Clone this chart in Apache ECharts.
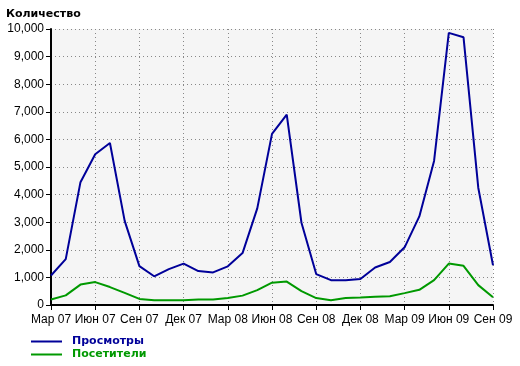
<!DOCTYPE html>
<html>
<head>
<meta charset="utf-8">
<script src="https://cdn.jsdelivr.net/npm/echarts@6/dist/echarts.min.js"></script>
<style>html,body{margin:0;padding:0;background:#fff}#c{width:520px;height:366px}</style>
</head>
<body>
<div id="c"></div>
<script>
var categories = ['Мар 07','Апр 07','Май 07','Июн 07','Июл 07','Авг 07','Сен 07','Окт 07','Ноя 07','Дек 07','Янв 08','Фев 08',
  'Мар 08','Апр 08','Май 08','Июн 08','Июл 08','Авг 08','Сен 08','Окт 08','Ноя 08','Дек 08','Янв 09','Фев 09',
  'Мар 09','Апр 09','Май 09','Июн 09','Июл 09','Авг 09','Сен 09'];
var views = [1070,1660,4450,5460,5870,3050,1410,1040,1300,1500,1230,1180,
  1400,1880,3500,6200,6900,2980,1120,900,900,940,1360,1560,
  2090,3210,5220,9860,9700,4250,1440];
var visitors = [200,350,740,830,650,440,220,175,175,175,200,200,
  250,340,540,810,850,500,250,175,250,270,300,320,
  430,550,900,1500,1420,720,280];
var yTicks = {min: 0, max: 10000, interval: 1000};

var chart = echarts.init(document.getElementById('c'), null, {renderer: 'canvas'});
var dotted = {color: '#888', width: 1, type: [1, 3]};
chart.setOption({
  animation: false,
  title: {
    text: 'Количество', left: 1, top: 4,
    textStyle: {fontFamily: 'DejaVu Sans', fontWeight: 'bold', fontSize: 11, color: '#000'}
  },
  legend: {
    orient: 'vertical', left: 31, top: 335, padding: 0,
    itemWidth: 31, itemHeight: 2, itemGap: 0,
    icon: 'rect',
    textStyle: {fontFamily: 'DejaVu Sans', fontWeight: 'bold', fontSize: 11, lineHeight: 13, padding: [0,0,0,5]},
    data: [
      {name: 'Просмотры', textStyle: {color: '#000099'}},
      {name: 'Посетители', textStyle: {color: '#009900'}}
    ]
  },
  grid: {left: 51, right: 27, top: 29, bottom: 61, show: true, backgroundColor: '#f5f5f5', borderWidth: 0},
  xAxis: {
    type: 'category', data: categories, boundaryGap: false,
    axisLine: {lineStyle: {color: '#000', width: 2}},
    axisTick: {interval: 2, length: 5, lineStyle: {color: '#000', width: 1}},
    axisLabel: {interval: 2, margin: 9, color: '#000', fontFamily: 'Liberation Sans', fontSize: 12},
    splitLine: {show: true, interval: 2, lineStyle: dotted}
  },
  yAxis: {
    type: 'value', min: yTicks.min, max: yTicks.max, interval: yTicks.interval,
    axisLine: {show: true, lineStyle: {color: '#000', width: 2}},
    axisTick: {show: true, length: 5, lineStyle: {color: '#000', width: 1}},
    axisLabel: {margin: 7, color: '#000', fontFamily: 'Liberation Sans', fontSize: 12,
      formatter: function (v) { return v.toLocaleString('en-US'); }},
    splitLine: {show: true, lineStyle: dotted}
  },
  series: [
    {name: 'Просмотры', type: 'line', data: views, symbol: 'none', color: '#000099',
      lineStyle: {color: '#000099', width: 2}},
    {name: 'Посетители', type: 'line', data: visitors, symbol: 'none', color: '#009900',
      lineStyle: {color: '#009900', width: 2}}
  ]
});
</script>
</body>
</html>
